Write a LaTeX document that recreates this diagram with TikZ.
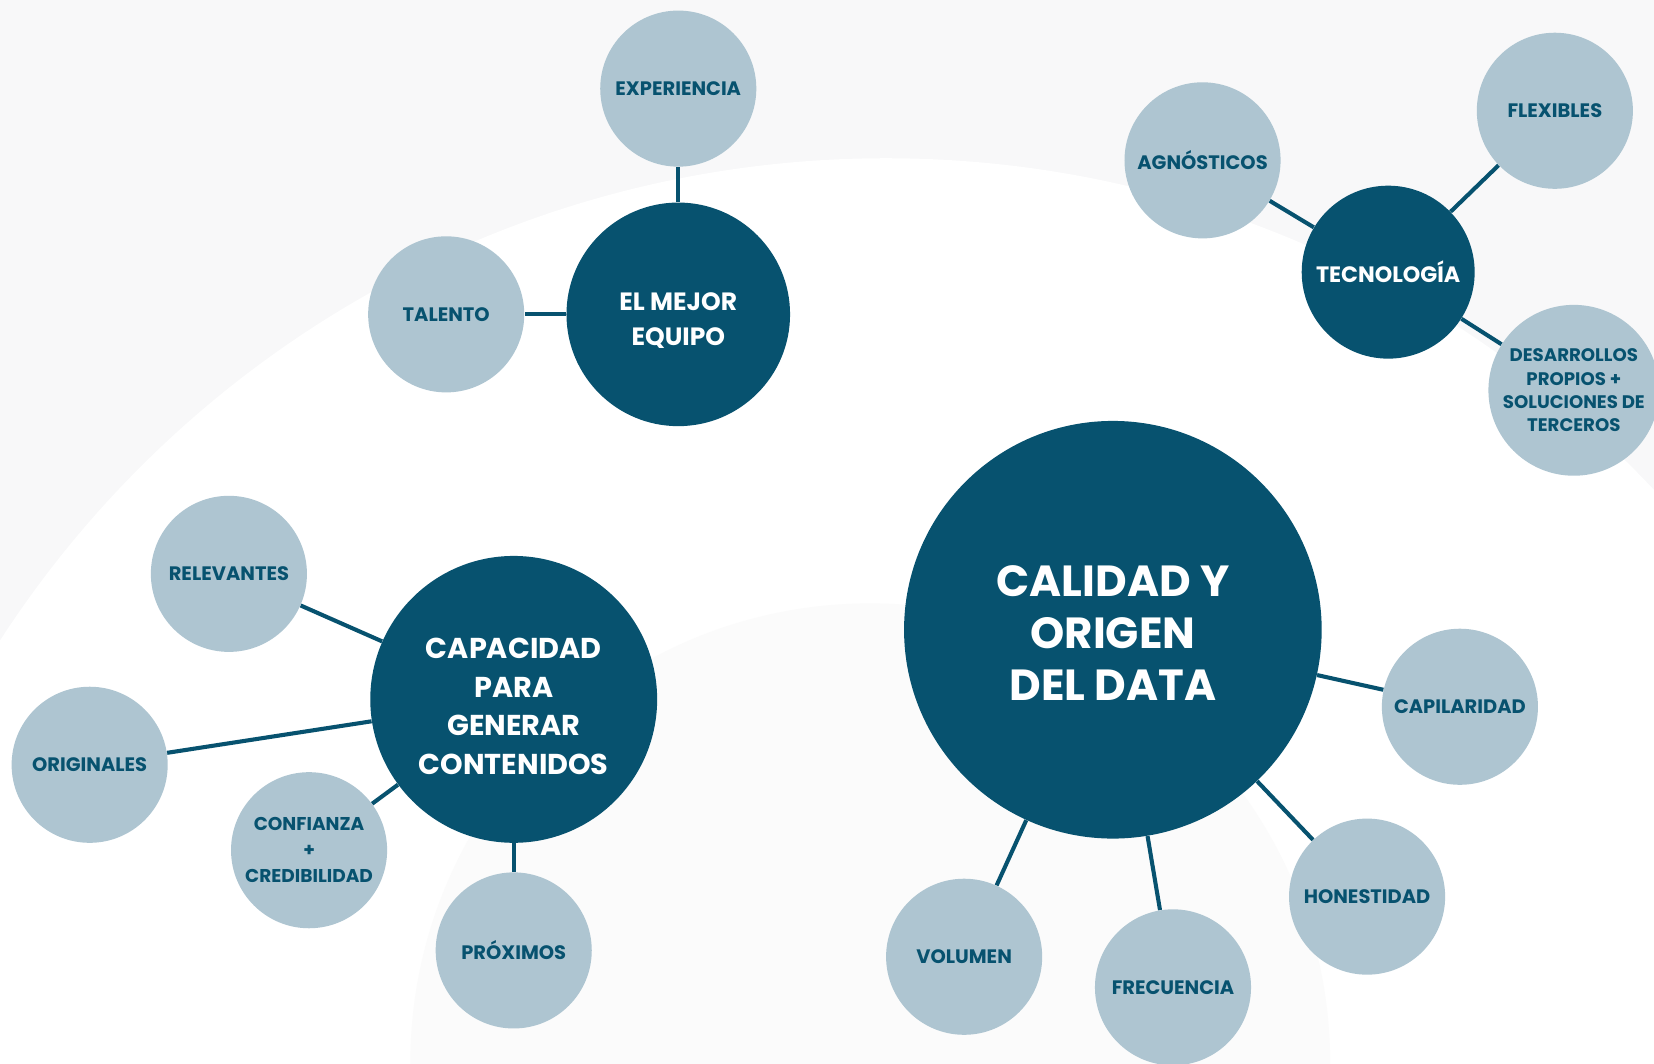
\documentclass[tikz,border=0pt]{standalone}
\usepackage{fontspec}
\setmainfont{Poppins}
\usetikzlibrary{positioning,backgrounds}
\definecolor{petrol}{HTML}{07526F}
\definecolor{mist}{HTML}{AEC5D1}
\definecolor{fog}{HTML}{F8F8F9}
\definecolor{haze}{HTML}{FBFBFB}
\newcommand{\lowstack}[2]{\raisebox{#1}[0pt][0pt]{\begin{tabular}{@{}c@{}}#2\end{tabular}}}

\begin{document}
\begin{tikzpicture}[x=0.02cm,y=-0.02cm,
  hub/.style={circle,fill=petrol,text=white,align=center,inner sep=0pt},
  leaf/.style={circle,fill=mist,text=petrol,align=center,inner sep=0pt,
    minimum size=2.96cm,font=\fontsize{10.5}{14}\selectfont\bfseries},
  link/.style={draw=petrol,line width=2.2pt}]
\useasboundingbox (0,0) rectangle (1568,1008);
% background arcs
\fill[fog] (0,0) rectangle (1568,1008);
\fill[white] (840,1150) circle (1000);
\fill[haze] (825,1008) circle (436);
% el mejor equipo
\node[hub,minimum size=4.24cm,font=\fontsize{13.5}{18.8}\selectfont\bfseries] (equipo) at (643,298) {\lowstack{-7.1pt}{EL MEJOR\\EQUIPO}};
\node[leaf] (experiencia) at (643,84) {EXPERIENCIA};
\node[leaf] (talento) at (423,298) {TALENTO};
\draw[link] (equipo) -- (experiencia);
\draw[link] (equipo) -- (talento);
% tecnologia
\node[hub,minimum size=3.28cm,font=\fontsize{12}{16}\selectfont\bfseries] (tecno) at (1316,258) {TECNOLOGÍA};
\node[leaf] (agnosticos) at (1140,152) {AGNÓSTICOS};
\node[leaf] (flexibles) at (1474,105) {FLEXIBLES};
\node[leaf,minimum size=3.24cm,font=\fontsize{9.8}{12.5}\selectfont\bfseries] (propios) at (1492,370) {DESARROLLOS\\PROPIOS +\\SOLUCIONES DE\\TERCEROS};
\draw[link] (tecno) -- (agnosticos);
\draw[link] (tecno) -- (flexibles);
\draw[link] (tecno) -- (propios);
% capacidad para generar contenidos
\node[hub,minimum size=5.44cm,font=\fontsize{15.5}{20.7}\selectfont\bfseries] (capacidad) at (487,663) {\lowstack{-8.7pt}{CAPACIDAD\\PARA\\GENERAR\\CONTENIDOS}};
\node[leaf] (relevantes) at (217,544) {RELEVANTES};
\node[leaf] (originales) at (85,725) {ORIGINALES};
\node[leaf,font=\fontsize{10}{14}\selectfont\bfseries] (confianza) at (293,806) {CONFIANZA\\+\\CREDIBILIDAD};
\node[leaf] (proximos) at (487,901) {PRÓXIMOS};
\draw[link] (capacidad) -- (relevantes);
\draw[link] (capacidad) -- (originales);
\draw[link] (capacidad) -- (confianza);
\draw[link] (capacidad) -- (proximos);
% calidad y origen del data
\node[hub,minimum size=7.92cm,font=\fontsize{23.5}{28.2}\selectfont\bfseries] (calidad) at (1055,597) {\lowstack{-10.7pt}{CALIDAD Y\\ORIGEN\\DEL DATA}};
\node[leaf] (capilaridad) at (1384,670) {CAPILARIDAD};
\node[leaf] (honestidad) at (1296,850) {HONESTIDAD};
\node[leaf] (frecuencia) at (1112,936) {FRECUENCIA};
\node[leaf] (volumen) at (914,907) {VOLUMEN};
\draw[link] (calidad) -- (capilaridad);
\draw[link] (calidad) -- (honestidad);
\draw[link] (calidad) -- (frecuencia);
\draw[link] (calidad) -- (volumen);
\end{tikzpicture}
\end{document}
